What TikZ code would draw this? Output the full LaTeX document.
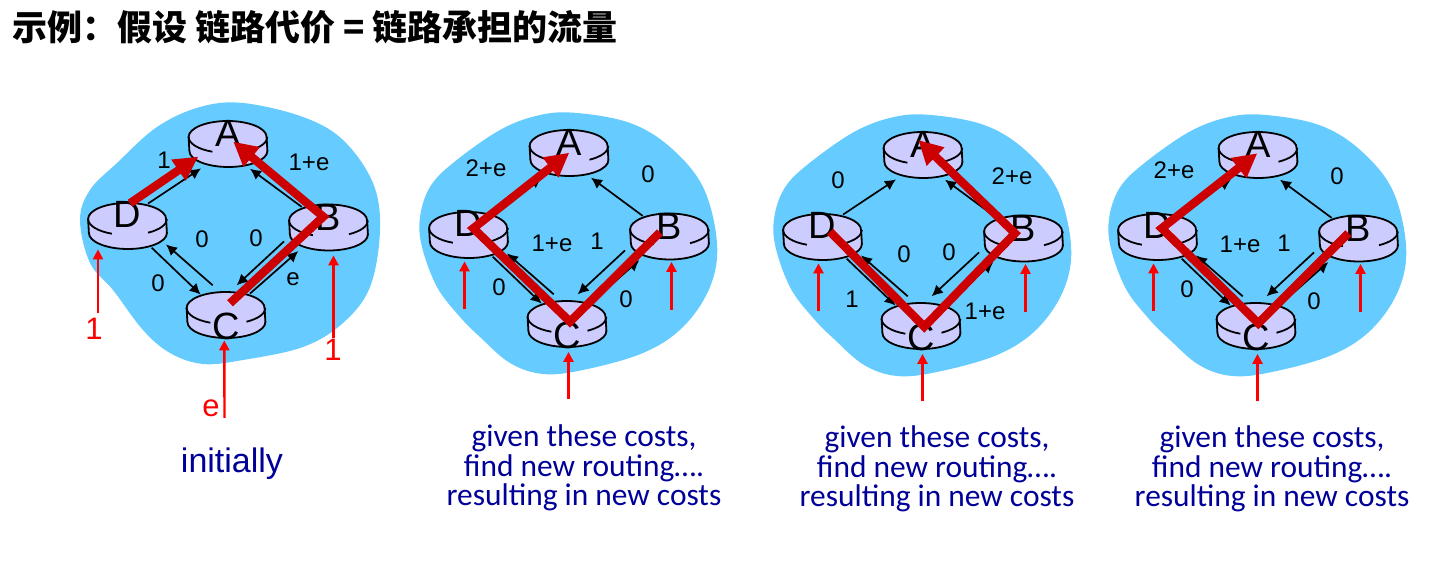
\documentclass[tikz,border=0pt]{standalone}
\usepackage{fontspec}
\setmainfont{Liberation Sans}
\newfontfamily\cjk[BoldFont={Noto Sans CJK SC Black}]{Noto Sans CJK SC}
\newfontfamily\captionfont{Carlito}
\usetikzlibrary{arrows.meta,positioning}
\definecolor{cloudblue}{HTML}{66CCFF}
\definecolor{routerlilac}{HTML}{CCCCFF}
\definecolor{routered}{HTML}{CC0000}
\definecolor{captionblue}{HTML}{000099}
\newcommand{\router}[5]{
  \node[routerbox] (#1) at (#2,#3) {};
  \draw[routerline, fill=routerlilac] ([yshift=3.5pt]#1.west) arc[start angle=180, end angle=0, x radius=19.5pt, y radius=8pt] -- ([yshift=-3.5pt]#1.east) arc[start angle=0, end angle=-180, x radius=19.5pt, y radius=8pt] -- cycle;
  \draw[routerline] ([yshift=3.5pt]#1.west) arc[start angle=180, end angle=247, x radius=19.5pt, y radius=8pt];
  \draw[routerline] ([yshift=3.5pt]#1.east) arc[start angle=0, end angle=-59, x radius=19.5pt, y radius=8pt];
  \node[letter] (#1l) at ([shift={(0,#5)}]#1.center) {#4};
}
\begin{document}
\begin{tikzpicture}[
    x=0.5pt, y=-0.5pt,
    routerbox/.style={minimum width=39pt, minimum height=23pt, inner sep=0pt},
    routerline/.style={line width=0.9pt},
    letter/.style={font=\fontsize{19}{21}\selectfont, inner sep=0pt},
    cost/.style={font=\fontsize{12}{14}\selectfont, inner sep=0pt},
    demand/.style={font=\fontsize{15.5}{17}\selectfont, text=red, inner sep=0pt},
    link/.style={-{Latex[length=5.5pt,width=5.5pt]}, line width=0.85pt},
    feed/.style={-{Triangle[length=5pt,width=5pt]}, line width=1.2pt, red},
    route/.style={-{Triangle[length=12pt,width=12pt]}, line width=4.2pt, routered, line join=miter},
    caption/.style={font=\captionfont\fontsize{15.7}{14.75}\selectfont, text=captionblue, align=center, inner sep=0pt}
]
\useasboundingbox (0,0) rectangle (1444,565);
\node[anchor=west, inner sep=0pt, font=\cjk\bfseries\fontsize{17.5}{19}\selectfont] (title) at (12,27) {示例：假设 链路代价 = 链路承担的流量};
\fill[cloudblue] plot[smooth cycle, tension=0.6] coordinates {(243,103) (303,117) (343,140) (373,183) (380,230) (370,287) (343,323) (303,347) (243,360) (203,364) (170,353) (143,330) (113,290) (90,263) (80,220) (90,190) (117,163) (157,127) (200,107)};
\foreach \dx/\dy in {341/9,695/11,1030/11}{
  \begin{scope}[shift={(\dx,\dy)}]
    \fill[cloudblue] plot[smooth cycle, tension=0.6] coordinates {(236,104) (289,114) (329,138) (362,178) (376,234) (369,278) (342,318) (302,344) (242,361) (202,365) (169,354) (139,328) (119,308) (96,278) (81,238) (79,208) (89,178) (112,154) (159,121) (199,106)};
  \end{scope}
}
\foreach \p/\dx/\dy in {1/0/0,2/341/9,3/695/11,4/1030/11}{
  \begin{scope}[shift={(\dx,\dy)}]
    \router{A\p}{228}{144}{A}{-11}
    \router{B\p}{328.5}{227.5}{B}{-10}
    \router{C\p}{226}{315}{C}{11}
    \router{D\p}{127.5}{226}{D}{-12}
  \end{scope}
  \draw[link] ([shift={(20.5,1)}]D\p.north) -- ([shift={(-27,1)}]A\p.south);
  \draw[link] ([shift={(-26.8,2.8)}]B\p.north) -- ([shift={(22,1.3)}]A\p.south);
  \draw[link] ([shift={(-13.3,-6.3)}]C\p.north) -- ([shift={(38.5,-5)}]D\p.south);
  \draw[link] ([shift={(24.2,-1.7)}]D\p.south) -- ([shift={(-25.3,3)}]C\p.north);
  \draw[link] ([shift={(-44.5,-9.5)}]B\p.south) -- ([shift={(10.7,-6.3)}]C\p.north);
  \draw[link] ([shift={(24,2)}]C\p.north) -- ([shift={(-30.2,0.2)}]B\p.south);
}
\coordinate (inD1) at (98,313);
\coordinate (inB1) at (333.5,338);
\coordinate (inC1) at (224.5,418);
\draw[feed] (inD1) -- ([shift={(-29.5,0)}]D1.south);
\draw[feed] (inB1) -- ([shift={(5,4.5)}]B1.south);
\draw[feed] (inC1) -- ([shift={(-1.7,2)}]C1.south);
\foreach \p/\dx/\dy in {2/341/9,3/695/11,4/1030/11}{
  \coordinate (inD\p) at ([shift={(-4,51)}]D\p.south);
  \coordinate (inB\p) at ([shift={(2,50)}]B\p.south);
  \coordinate (inC\p) at ([shift={(1.5,52)}]C\p.south);
  \draw[feed] (inD\p) -- ([shift={(-4,3)}]D\p.south);
  \draw[feed] (inB\p) -- ([shift={(2,2)}]B\p.south);
  \draw[feed] (inC\p) -- ([shift={(1.5,4.5)}]C\p.south);
}
\draw[route] ([shift={(2.5,-22.7)}]D1.center) -- ([shift={(-29.7,12.7)}]A1.center);
\draw[route] ([shift={(4,-11.7)}]C1.center) -- ([shift={(-5.2,-10.8)}]B1.center) -- ([shift={(5.3,-2.3)}]A1.center);
\draw[route] ([shift={(-9.5,-4.2)}]B2.center) -- ([shift={(3,-2.3)}]C2.center) -- ([shift={(4.8,-6.7)}]D2.center) -- ([shift={(0.3,-0.3)}]A2.center);
\draw[route] ([shift={(7.5,-5.3)}]D3.center) -- ([shift={(3.3,0.7)}]C3.center) -- ([shift={(-8.5,-5.2)}]B3.center) -- ([shift={(-4.7,-15)}]A3.center);
\draw[route] ([shift={(-10.2,-5.2)}]B4.center) -- ([shift={(2.3,-2.7)}]C4.center) -- ([shift={(4.2,-8.7)}]D4.center) -- ([shift={(-0.7,-1.7)}]A4.center);
\node[cost] (da1) at (164,160) {1};
\node[cost] (ba1) at (309,162) {1+e};
\node[cost] (cd1) at (202,239) {0};
\node[cost] (bc1) at (256,238) {0};
\node[cost] (dc1) at (158,283) {0};
\node[cost] (cb1) at (293,279) {e};
\node[demand] (dd1) at (94,329) {1};
\node[demand] (db1) at (333,350) {1};
\node[demand] (de1) at (211,408) {e};
\node[cost] (da2) at (486,168) {2+e};
\node[cost] (ba2) at (648,174) {0};
\node[cost] (cd2) at (552,243) {1+e};
\node[cost] (bc2) at (597,241) {1};
\node[cost] (dc2) at (499,287) {0};
\node[cost] (cb2) at (626,299) {0};
\node[cost] (da3) at (838,180) {0};
\node[cost] (ba3) at (1012,176) {2+e};
\node[cost] (cd3) at (904,254) {0};
\node[cost] (bc3) at (949,252) {0};
\node[cost] (dc3) at (852,299) {1};
\node[cost] (cb3) at (985,311) {1+e};
\node[cost] (da4) at (1174,170) {2+e};
\node[cost] (ba4) at (1337,176) {0};
\node[cost] (cd4) at (1240,244) {1+e};
\node[cost] (bc4) at (1284,243) {1};
\node[cost] (dc4) at (1187,289) {0};
\node[cost] (cb4) at (1314,301) {0};
\node[font=\fontsize{17}{20}\selectfont, text=captionblue, inner sep=0pt] (initially) at (232,464) {initially};
\node[caption] (cap2) at (584,468) {given these costs,\\find new routing\ldots.\\resulting in new costs};
\node[caption] (cap3) at (937,469) {given these costs,\\find new routing\ldots.\\resulting in new costs};
\node[caption] (cap4) at (1272,469) {given these costs,\\find new routing\ldots.\\resulting in new costs};
\end{tikzpicture}
\end{document}
